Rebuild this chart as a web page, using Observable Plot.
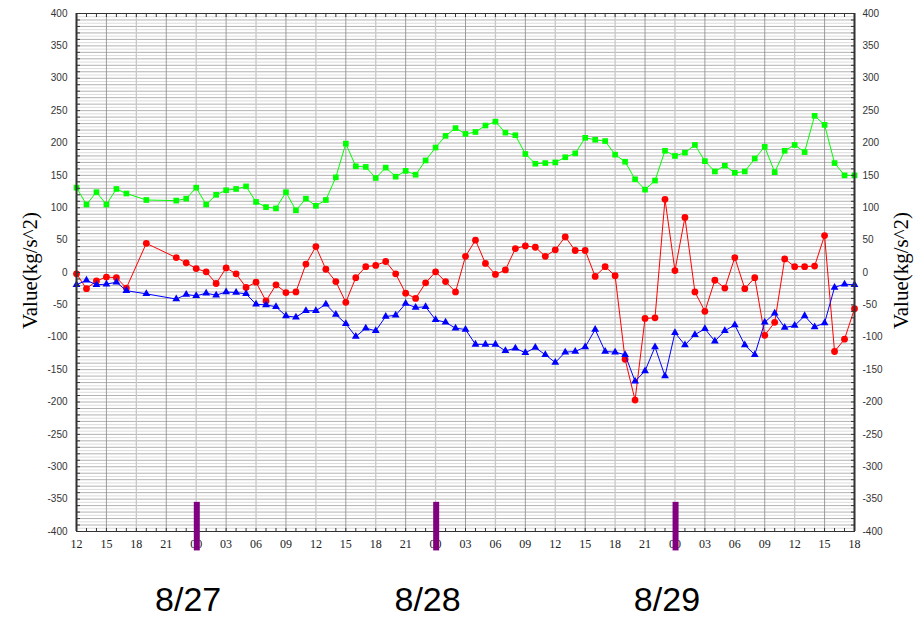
<!DOCTYPE html>
<html><head><meta charset="utf-8">
<script src="https://cdn.jsdelivr.net/npm/d3@7"></script>
<script src="https://cdn.jsdelivr.net/npm/@observablehq/plot@0.6"></script>
<style>body{margin:0;background:#fff;overflow:hidden}</style>
</head><body><div id="chart"></div>
<script>
// ---- data ----
const startTime = "2014-08-26T12:00:00Z";
const endHour = 78;
const hoursFromStart = [0,1,2,3,4,5,7,
  10,11,12,13,14,15,16,17,18,19,20,21,22,23,24,25,26,27,28,29,30,31,32,33,34,35,36,37,38,39,40,
  41,42,43,44,45,46,47,48,49,50,51,52,53,54,55,56,57,58,59,60,61,62,63,64,65,66,67,68,69,70,
  71,72,73,74,75,76,77,78];
const greenValues = [131,105,124,105,129,122,112,
  111,114,131,105,120,127,129,133,109,101,99,124,96,114,103,112,147,199,164,163,146,162,148,157,151,173,193,211,223,214,217,
  227,233,216,212,183,168,169,170,178,184,208,205,203,182,171,144,128,142,188,180,185,197,172,156,165,154,156,176,194,155,
  188,197,186,242,228,169,150,150];
const redValues = [-2,-25,-13,-7,-8,-24,45,
  23,15,6,1,-17,7,-2,-23,-15,-44,-19,-31,-30,13,40,5,-14,-46,-8,9,11,17,-2,-32,-40,-16,1,-14,-30,25,
  50,14,-3,4,37,41,39,25,35,55,34,34,-6,9,-5,-134,-197,-71,-70,113,3,85,-30,-60,-12,-24,23,-25,-8,-97,-77,
  21,9,9,10,57,-122,-103,-56];
const blueValues = [-19,-12,-19,-18,-15,-28,-33,
  -41,-34,-36,-32,-35,-30,-31,-33,-49,-50,-53,-67,-69,-59,-59,-49,-65,-79,-99,-86,-90,-68,-66,-48,-54,-53,-73,-77,-86,-88,
  -111,-111,-111,-121,-117,-124,-116,-127,-139,-123,-122,-115,-88,-122,-123,-127,-168,-152,-115,-160,-93,-112,-96,-87,-106,-90,-81,-112,-127,-77,-63,
  -85,-82,-67,-84,-78,-23,-18,-19];
const dayMarkers = ["2014-08-27T00:00:00Z","2014-08-28T00:00:00Z","2014-08-29T00:00:00Z"];
const dayLabels = ["8/27","8/28","8/29"];
const markerTop = -355, markerBottom = -430;
const yMin = -400, yMax = 400;
const yLabelStep = 50;
const yAxisTitle = "Value(kg/s^2)";

// ---- build ----
const t0 = new Date(startTime);
const toDate = h => new Date(+t0 + h * 3600e3);
const xDomain = [t0, toDate(endHour)];
const seriesDefs = [
  {name: "green", values: greenValues, color: "#00ff00", symbol: "square", r: 3.2},
  {name: "red", values: redValues, color: "#ff0000", symbol: "circle", r: 3.4},
  {name: "blue", values: blueValues, color: "#0000ff", symbol: "triangle", r: 2.9}
];
const hourTicks = d3.utcHour.every(1).range(xDomain[0], new Date(+xDomain[1] + 1));
const tick3 = d3.utcHour.every(3).range(xDomain[0], new Date(+xDomain[1] + 1));
const gridDark = tick3.filter(d => d.getUTCHours() % 6 === 3);
const gridLight = tick3.filter(d => d.getUTCHours() % 6 === 0);
const grid5 = d3.range(yMin, yMax + 1, 5);
const yLabels = d3.range(yMin, yMax + 1, yLabelStep);
const yMinor = d3.range(yMin, yMax + 1, 10);
const markerDates = dayMarkers.map(d => new Date(d));
const dayLabelOf = new Map(markerDates.map((d, i) => [+d, dayLabels[i]]));

const seriesMarks = seriesDefs.flatMap(s => {
  const pts = hoursFromStart.map((h, i) => ({t: toDate(h), v: s.values[i]}));
  return [
    Plot.line(pts, {x: "t", y: "v", stroke: s.color, strokeWidth: 1}),
    Plot.dot(pts, {x: "t", y: "v", fill: s.color, symbol: s.symbol, r: s.r, stroke: "none"})
  ];
});

const axFont = {fontFamily: "Liberation Sans, Arial, sans-serif", fontSize: 10, color: "#333"};
const chart = Plot.plot({
  width: 914, height: 627,
  marginLeft: 76, marginRight: 60, marginTop: 13, marginBottom: 96,
  style: {background: "#fff", overflow: "visible"},
  x: {type: "utc", domain: xDomain, axis: null},
  y: {domain: [yMin, yMax], axis: null},
  marks: [
    Plot.ruleY(grid5.filter(d => d % 10 !== 0), {stroke: "#dcdcdc", strokeWidth: 1}),
    Plot.ruleY(grid5.filter(d => d % 10 === 0), {stroke: "#9e9e9e", strokeWidth: 0.8}),
    Plot.ruleX(gridLight, {stroke: "#c8c8c8", strokeWidth: 1.3}),
    Plot.ruleX(gridDark, {stroke: "#888", strokeWidth: 0.8}),
    ...seriesMarks,
    Plot.frame({stroke: "#333", strokeWidth: 1}),
    Plot.ruleX([xDomain[0], xDomain[1]], {stroke: "#333", strokeWidth: 2}),
    Plot.axisY(yLabels, {anchor: "left", tickSize: 0, tickPadding: 9, tickFormat: d => String(d), label: null, ...axFont}),
    Plot.axisY(yMinor, {anchor: "left", tickSize: -4, tickFormat: () => "", label: null, stroke: "#333"}),
    Plot.axisY(yLabels, {anchor: "right", tickSize: 0, tickPadding: 8, tickFormat: d => String(d), label: null, ...axFont}),
    Plot.axisY(yMinor, {anchor: "right", tickSize: -4, tickFormat: () => "", label: null, stroke: "#333"}),
    Plot.axisX(tick3, {anchor: "bottom", tickSize: 0, tickPadding: 8, tickFormat: d3.utcFormat("%H"), label: null,
      fontFamily: "Liberation Serif, Times New Roman, serif", fontSize: 12, color: "#222"}),
    Plot.axisX(hourTicks, {anchor: "bottom", tickSize: -3, tickFormat: () => "", label: null, stroke: "#333"}),
    Plot.axisX(hourTicks, {anchor: "top", tickSize: -3, tickFormat: () => "", label: null, stroke: "#333"}),
    Plot.axisX(markerDates, {anchor: "bottom", tickSize: 0, tickPadding: 55, tickFormat: d => dayLabelOf.get(+d), label: null,
      fontFamily: "Liberation Sans, Arial, sans-serif", fontSize: 34, color: "#000", dx: -8}),
    Plot.ruleX(markerDates, {x: d => d, y1: markerBottom, y2: markerTop, stroke: "#800080", strokeWidth: 6, dx: 0.6, clip: false}),
    Plot.text([yAxisTitle], {frameAnchor: "left", textAnchor: "middle", lineAnchor: "middle", text: d => d, rotate: -90, dx: -46, dy: -2,
      fontFamily: "Liberation Serif, Times New Roman, serif", fontSize: 21, fill: "#000"}),
    Plot.text([yAxisTitle], {frameAnchor: "right", textAnchor: "middle", lineAnchor: "middle", text: d => d, rotate: -90, dx: 47, dy: -2,
      fontFamily: "Liberation Serif, Times New Roman, serif", fontSize: 21, fill: "#000"})
  ]
});
document.getElementById("chart").append(chart);
</script>
</body></html>
